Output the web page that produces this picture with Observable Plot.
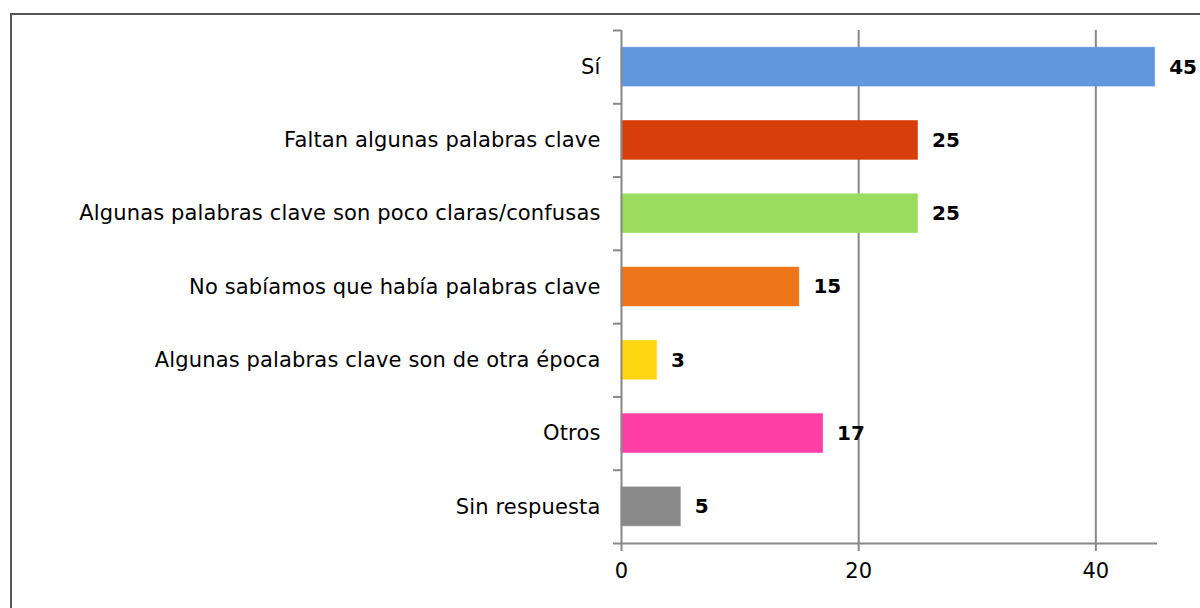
<!DOCTYPE html>
<html>
<head>
<meta charset="utf-8">
<script src="https://cdn.jsdelivr.net/npm/d3@7"></script>
<script src="https://cdn.jsdelivr.net/npm/@observablehq/plot@0.6"></script>
<style>
  html, body { margin: 0; padding: 0; background: #fff; overflow: hidden; }
  #wrap { position: relative; width: 1200px; height: 608px; }
  #frame { position: absolute; left: 10px; top: 13px; width: 1200px; height: 640px; border: 2px solid #555; box-sizing: border-box; pointer-events: none; }
  .ylab text { letter-spacing: 0.15px; }
</style>
</head>
<body>
<div id="wrap"><div id="frame"></div></div>
<script>
const categories = [
  "Sí",
  "Faltan algunas palabras clave",
  "Algunas palabras clave son poco claras/confusas",
  "No sabíamos que había palabras clave",
  "Algunas palabras clave son de otra época",
  "Otros",
  "Sin respuesta"
];
const values = [45, 25, 25, 15, 3, 17, 5];
const colors = ["#6097DD", "#D83D0C", "#9ADD5E", "#EE7519", "#FFD611", "#FF3FA6", "#898989"];
const xTicks = [0, 20, 40];

const data = categories.map((c, i) => ({i, category: c, value: values[i], color: colors[i]}));
const half = 0.265;
const boundaries = d3.range(categories.length + 1).map(k => k - 0.5);
const font = "'DejaVu Sans', Verdana, sans-serif";
const axisColor = "#888";

const chart = Plot.plot({
  width: 1200,
  height: 608,
  marginLeft: 621,
  marginRight: 43,
  marginTop: 30,
  marginBottom: 65,
  style: {fontFamily: font, fontSize: "21px", color: "#000", background: "transparent"},
  x: {domain: [0, 45.2], axis: null, label: null},
  y: {domain: [-0.5, categories.length - 0.5], reverse: true, axis: null, label: null},
  marks: [
    Plot.ruleX(xTicks.slice(1), {stroke: axisColor, strokeWidth: 2}),
    Plot.rectX(data, {x1: 0, x2: "value", y1: d => d.i - half, y2: d => d.i + half, fill: "color", stroke: d => d.color, strokeOpacity: 0.6, strokeWidth: 1}),
    Plot.ruleX([0], {stroke: axisColor, strokeWidth: 2}),
    Plot.ruleY([categories.length - 0.5], {stroke: axisColor, strokeWidth: 2}),
    Plot.axisY({ticks: boundaries, tickFormat: () => "", tickSize: 8, stroke: axisColor, strokeWidth: 2, label: null}),
    Plot.axisY({ticks: data.map(d => d.i), tickFormat: i => categories[i], tickSize: 0, tickPadding: 21, fontSize: 21, fill: "#000", label: null, className: "ylab"}),
    Plot.axisX({ticks: xTicks, tickSize: 8, tickPadding: 12, stroke: axisColor, strokeWidth: 2, fontSize: 21, fill: "#000", tickFormat: d => String(d), label: null}),
    Plot.text(data, {x: "value", y: "i", text: d => String(d.value), dx: 14, textAnchor: "start", fontWeight: "bold", fontSize: 20, fill: "#000"})
  ]
});
document.getElementById("wrap").prepend(chart);
</script>
</body>
</html>
